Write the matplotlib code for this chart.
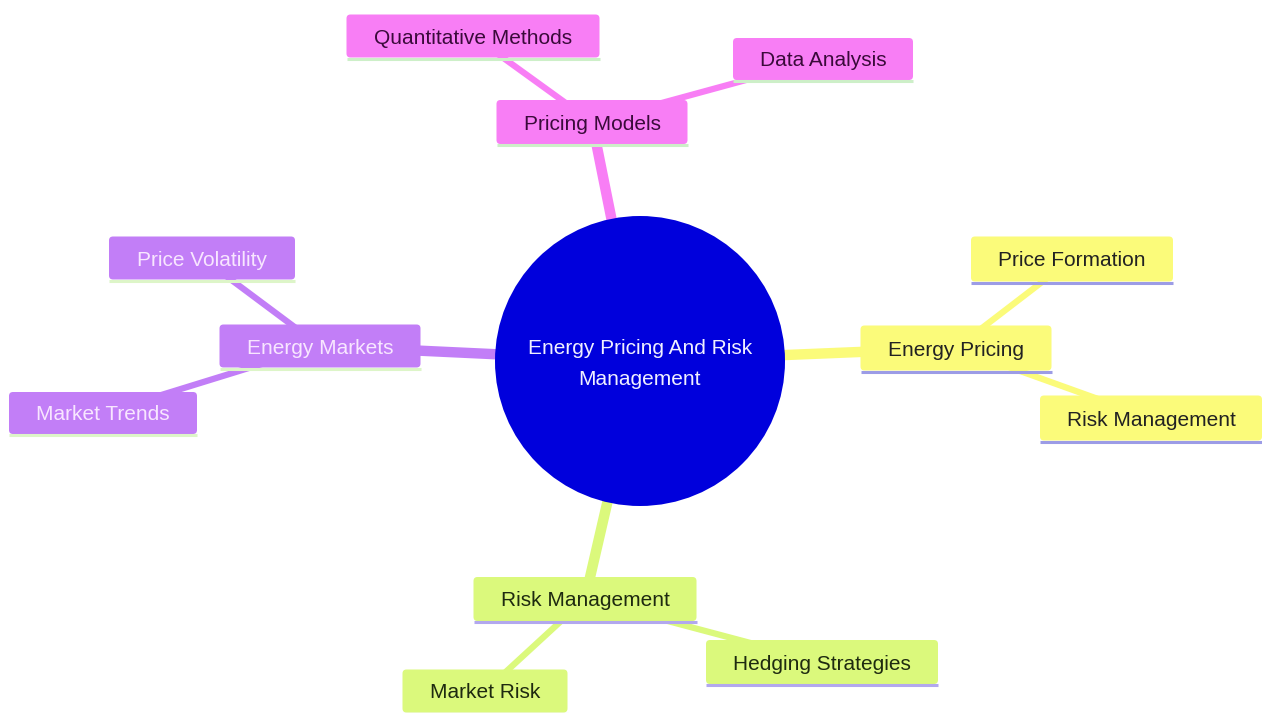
import matplotlib.pyplot as plt
from matplotlib.patches import FancyBboxPatch, Circle

# mind map content
root = 'Energy Pricing And Risk\nManagement'
branches = ['Pricing Models', 'Energy Markets', 'Energy Pricing', 'Risk Management']
leaves = [
    ['Quantitative Methods', 'Data Analysis'],
    ['Price Volatility', 'Market Trends'],
    ['Price Formation', 'Risk Management'],
    ['Hedging Strategies', 'Market Risk'],
]

# layout (pixel coords, y down): centre, width, height
root_pos = (640, 361)
root_r = 145
branch_box = [(592, 122, 191, 44), (320, 346, 201, 43), (956, 348, 191, 45), (585, 599, 223, 44)]
leaf_box = [
    [(473, 36, 253, 43), (823, 59, 180, 42)],
    [(202, 258, 186, 43), (103, 413, 188, 42)],
    [(1072, 259, 202, 45), (1151, 418, 222, 45)],
    [(822, 662, 232, 44), (485, 691, 165, 43)],
]
fill = ['#F87EF5', '#C27EF7', '#FBFB7A', '#DBF97C']
text_col = ['#3A0A3A', '#F8E6FF', '#222222', '#1E2A10']
under_col = ['#CDEFC8', '#DDF5C8', '#9C9CE6', '#B2A8EE']

W, H = 1262, 713
fig = plt.figure(figsize=(W / 100, H / 100), dpi=100)
ax = fig.add_axes([0, 0, 1, 1])
ax.set_xlim(0, W)
ax.set_ylim(H, 0)
ax.axis('off')
plt.rcParams['font.family'] = ['Liberation Sans', 'DejaVu Sans']


def draw_box(x, y, w, h, label, i):
    ax.add_patch(FancyBboxPatch((x - w / 2 + 4, y - h / 2 + 4), w - 8, h - 8,
                                boxstyle='round,pad=4', fc=fill[i], ec='none', zorder=3))
    ax.plot([x - w / 2, x + w / 2], [y + h / 2 + 1, y + h / 2 + 1],
            color=under_col[i], lw=2.2, solid_capstyle='butt', zorder=4)
    ax.text(x, y + 2, label, ha='center', va='center', fontsize=15,
            color=text_col[i], zorder=5)


for i, b in enumerate(branches):
    bx, by, bw, bh = branch_box[i]
    ax.plot([root_pos[0], bx], [root_pos[1], by], color=fill[i], lw=7.5,
            solid_capstyle='butt', zorder=1)
    for j, leaf in enumerate(leaves[i]):
        lx, ly, lw_, lh = leaf_box[i][j]
        ax.plot([bx, lx], [by, ly], color=fill[i], lw=4.5,
                solid_capstyle='butt', zorder=1)
        draw_box(lx, ly, lw_, lh, leaf, i)
    draw_box(bx, by, bw, bh, b, i)

ax.add_patch(Circle(root_pos, root_r, fc='#0000DC', ec='none', zorder=6))
ax.text(root_pos[0], root_pos[1] + 3, root, ha='center', va='center', fontsize=15,
        color='#F0F0FF', linespacing=1.85, zorder=7)

fig.savefig('out.png', dpi=100, facecolor='white')
